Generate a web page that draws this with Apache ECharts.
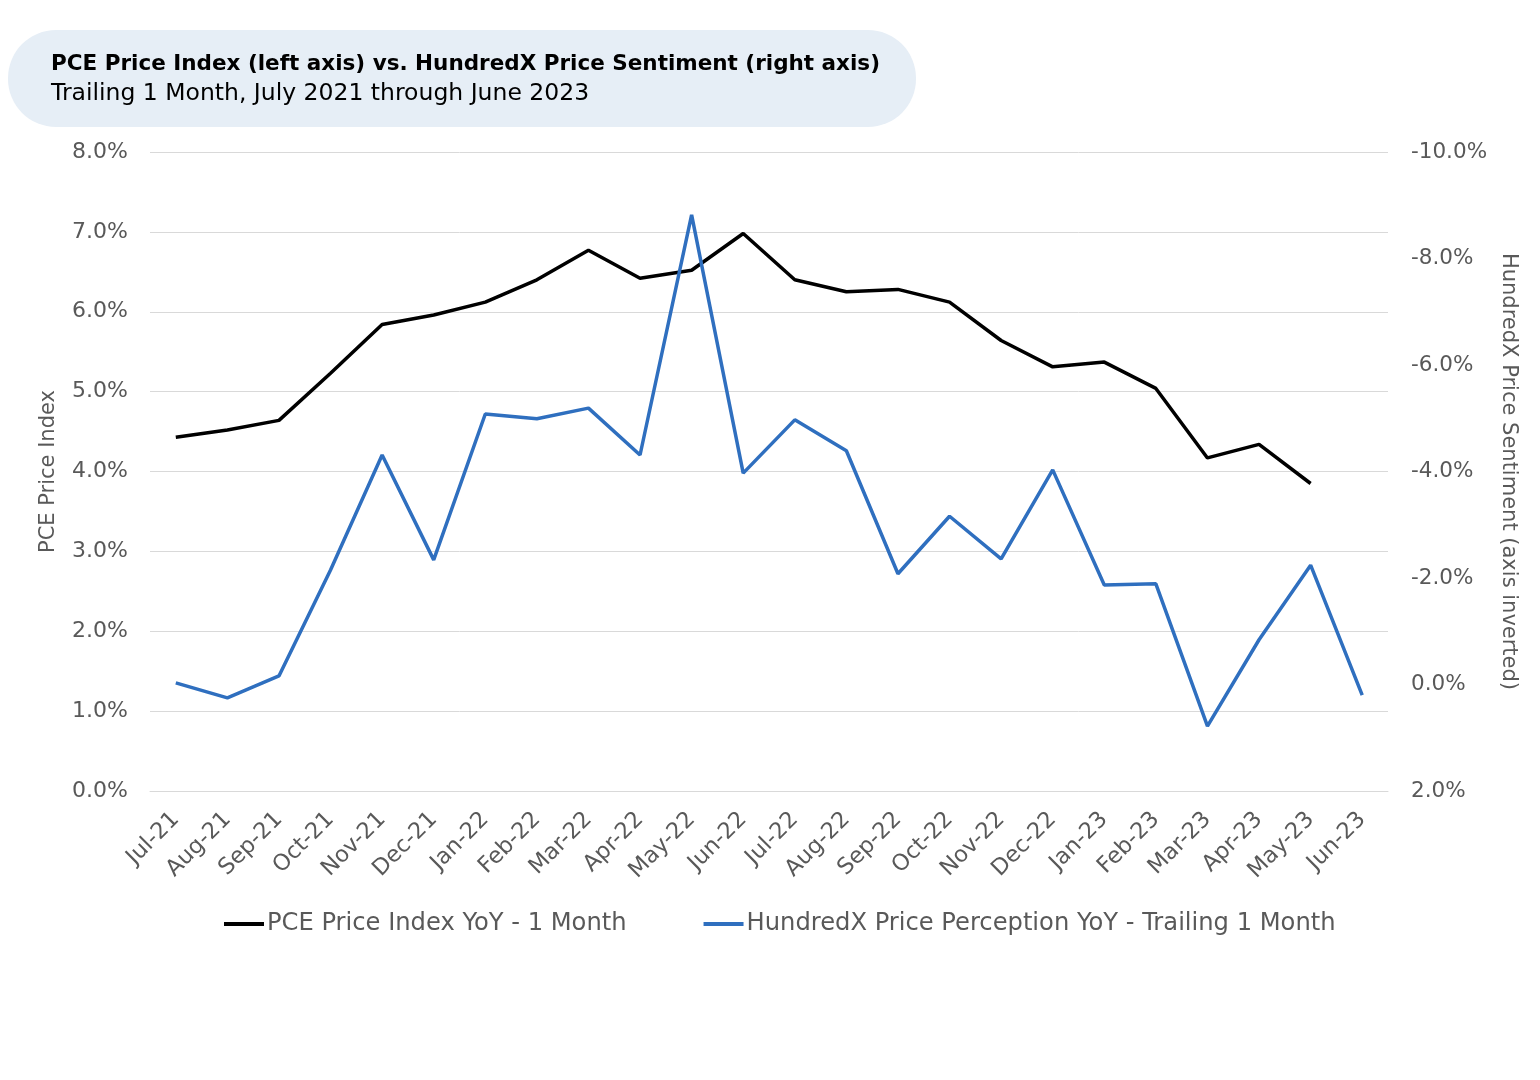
<!DOCTYPE html>
<html><head><meta charset="utf-8">
<script src="https://cdn.jsdelivr.net/npm/echarts@6/dist/echarts.min.js"></script>
<style>html,body{margin:0;padding:0;background:#fff}#c{width:1540px;height:1080px}</style>
</head><body><div id="c"></div>
<script>
const categories = ['Jul-21','Aug-21','Sep-21','Oct-21','Nov-21','Dec-21','Jan-22','Feb-22','Mar-22','Apr-22','May-22','Jun-22','Jul-22','Aug-22','Sep-22','Oct-22','Nov-22','Dec-22','Jan-23','Feb-23','Mar-23','Apr-23','May-23','Jun-23'];
const pceValues = [4.43,4.52,4.64,5.23,5.84,5.96,6.12,6.40,6.77,6.42,6.52,6.98,6.40,6.25,6.28,6.12,5.64,5.31,5.37,5.04,4.17,4.34,3.85,null];
const hundredxValues = [-0.03,0.25,-0.16,-2.15,-4.31,-2.34,-5.08,-4.99,-5.19,-4.31,-8.82,-3.97,-4.97,-4.39,-2.08,-3.16,-2.36,-4.03,-1.87,-1.89,0.78,-0.84,-2.24,0.20];
const titleText = 'PCE Price Index (left axis) vs. HundredX Price Sentiment (right axis)';
const subtitleText = 'Trailing 1 Month, July 2021 through June 2023';
const seriesNames = ['PCE Price Index YoY - 1 Month','HundredX Price Perception YoY - Trailing 1 Month'];

const FONT = '"DejaVu Sans", sans-serif';
const GREY = '#595959';
const chart = echarts.init(document.getElementById('c'), null, {renderer:'canvas'});
chart.setOption({
  backgroundColor:'#fff',
  animation:false,
  textStyle:{fontFamily:FONT},
  graphic:[
    {type:'rect', shape:{x:8,y:30,width:908,height:97,r:48}, style:{fill:'#e6eef6'}},
    {type:'text', left:51, top:53, style:{text:titleText, font:'bold 21.5px '+FONT, fill:'#000'}},
    {type:'text', left:51, top:82, style:{text:subtitleText, font:'23.5px '+FONT, fill:'#000'}}
  ],
  grid:{left:150, right:152, top:152, bottom:289, containLabel:false},
  legend:{
    bottom:139, left:219,
    itemWidth:40, itemHeight:4, itemGap:77, icon:'rect',
    textStyle:{fontSize:24.2, color:GREY, fontFamily:FONT, padding:[0,0,0,-2]},
    data:seriesNames
  },
  xAxis:{
    type:'category', data:categories, boundaryGap:true,
    axisLine:{show:true, lineStyle:{color:'#d9d9d9'}}, axisTick:{show:false},
    axisLabel:{rotate:45, color:GREY, fontSize:22.5, margin:25, interval:0, fontFamily:FONT}
  },
  yAxis:[
    {type:'value', min:0, max:8, interval:1, position:'left',
     name:'PCE Price Index', nameLocation:'middle', nameGap:91, nameRotate:90,
     nameTextStyle:{color:GREY, fontSize:21, fontFamily:FONT},
     axisLine:{show:false}, axisTick:{show:false},
     axisLabel:{color:GREY, fontSize:22, margin:22, formatter:v=>v.toFixed(1)+'%', fontFamily:FONT},
     splitLine:{show:true, lineStyle:{color:'#d9d9d9', width:1}}},
    {type:'value', min:-10, max:2, interval:2, position:'right', inverse:true,
     name:'HundredX Price Sentiment (axis inverted)', nameLocation:'middle', nameGap:106, nameRotate:-90,
     nameTextStyle:{color:GREY, fontSize:21, fontFamily:FONT},
     axisLine:{show:false}, axisTick:{show:false},
     axisLabel:{color:GREY, fontSize:21.5, margin:23, formatter:v=>v.toFixed(1)+'%', fontFamily:FONT},
     splitLine:{show:false}}
  ],
  series:[
    {name:seriesNames[0], type:'line', yAxisIndex:0, data:pceValues, symbol:'none',
     lineStyle:{color:'#000', width:3.5}, itemStyle:{color:'#000'}},
    {name:seriesNames[1], type:'line', yAxisIndex:1, data:hundredxValues, symbol:'none',
     lineStyle:{color:'#2f6fbf', width:3.5}, itemStyle:{color:'#2f6fbf'}}
  ]
});
</script></body></html>
